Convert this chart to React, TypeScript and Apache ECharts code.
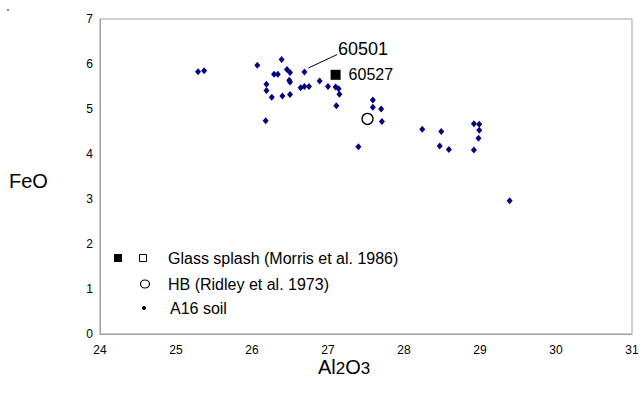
import React, { useEffect, useRef } from "react";
import * as echarts from "echarts";

const xMin = 24;
const xMax = 31;
const yMin = 0;
const yMax = 7;

// A16 soil
const soilAl2O3 = [
  25.29, 25.37, 26.07, 26.39, 26.29, 26.34, 26.46, 26.5, 26.49, 26.5, 26.19, 26.19, 26.26, 26.4,
  26.5, 26.69, 26.64, 26.69, 26.75, 26.89, 27.0, 27.1, 27.14, 27.15, 27.11, 26.18, 27.4, 27.59,
  27.59, 27.7, 27.71, 28.24, 28.49, 28.47, 28.59, 28.92, 28.99, 28.99, 28.98, 28.92, 29.39,
];
const soilFeO = [
  5.83, 5.85, 5.97, 6.1, 5.77, 5.77, 5.88, 5.81, 5.64, 5.6, 5.55, 5.41, 5.26, 5.29, 5.32, 5.82,
  5.47, 5.5, 5.5, 5.62, 5.5, 5.49, 5.45, 5.33, 5.07, 4.74, 4.16, 5.2, 5.04, 5.0, 4.72, 4.55, 4.5,
  4.18, 4.1, 4.67, 4.66, 4.53, 4.35, 4.09, 2.96,
];

// Glass splash (Morris et al. 1986)
const glassAl2O3 = [27.1];
const glassFeO = [5.76];
const glassLabels = ["60527"];

// HB (Ridley et al. 1973)
const hbAl2O3 = [27.52];
const hbFeO = [4.78];

// pointer for 60501 label
const pointerStart = [26.74, 5.91];
const pointerEnd = [27.12, 6.21];

const FONT = "Liberation Sans, Arial, sans-serif";

export default function App() {
  const ref = useRef<HTMLDivElement>(null);

  useEffect(() => {
    if (!ref.current) return;
    const chart = echarts.init(ref.current, null, { renderer: "svg" });
    const axisColor = "#a0a0a0";
    chart.setOption({
      animation: false,
      backgroundColor: "#ffffff",
      textStyle: { fontFamily: FONT },
      grid: {
        left: 100,
        right: 10,
        top: 19,
        bottom: 60,
        show: true,
        borderColor: axisColor,
        borderWidth: 1,
        containLabel: false,
      },
      xAxis: {
        type: "value",
        min: xMin,
        max: xMax,
        interval: 1,
        axisLine: { show: true, lineStyle: { color: axisColor, width: 1 } },
        axisTick: { show: false },
        splitLine: { show: false },
        axisLabel: { color: "#000", fontSize: 12, margin: 10, fontFamily: FONT },
      },
      yAxis: {
        type: "value",
        min: yMin,
        max: yMax,
        interval: 1,
        axisLine: { show: true, lineStyle: { color: axisColor, width: 1 } },
        axisTick: { show: false },
        splitLine: { show: false },
        axisLabel: { color: "#000", fontSize: 12, margin: 7, fontFamily: FONT },
      },
      series: [
        {
          name: "A16 soil",
          type: "scatter",
          symbol: "diamond",
          symbolSize: [6, 7],
          itemStyle: { color: "#000080", opacity: 1 },
          data: soilAl2O3.map((x, i) => [x, soilFeO[i]]),
          markLine: {
            silent: true,
            symbol: "none",
            label: { show: false },
            lineStyle: { color: "#000", width: 1, type: "solid" },
            data: [[{ coord: pointerStart }, { coord: pointerEnd }]],
          },
        },
        {
          name: "Glass splash (Morris et al. 1986)",
          type: "scatter",
          symbol: "rect",
          symbolSize: 10,
          itemStyle: { color: "#000", opacity: 1 },
          label: {
            show: true,
            position: "right",
            distance: 8,
            color: "#000000",
            opacity: 1,
            fontSize: 16,
            textBorderWidth: 0,
            fontFamily: FONT,
            formatter: (p: any) => glassLabels[p.dataIndex],
          },
          data: glassAl2O3.map((x, i) => [x, glassFeO[i]]),
        },
        {
          name: "HB (Ridley et al. 1973)",
          type: "scatter",
          symbol: "circle",
          symbolSize: 11,
          itemStyle: { color: "#fff", borderColor: "#000", borderWidth: 1.3, opacity: 1 },
          data: hbAl2O3.map((x, i) => [x, hbFeO[i]]),
        },
      ],
      graphic: [
        { type: "rect", left: 7, top: 9, shape: { width: 2, height: 2 }, style: { fill: "#888" } },
        {
          type: "text",
          style: { x: 338, y: 49, text: "60501", fontSize: 18, fill: "#000", fontFamily: FONT, verticalAlign: "middle" },
        },
        {
          type: "text",
          style: { x: 9, y: 181, text: "FeO", fontSize: 20, fill: "#000", fontFamily: FONT, verticalAlign: "middle" },
        },
        {
          type: "text",
          left: 318,
          top: 357,
          style: {
            text: "{a|Al}{b|2}{a|O}{b|3}",
            fill: "#000",
            fontFamily: FONT,
            rich: {
              a: { fontSize: 20, fontFamily: FONT, fill: "#000", verticalAlign: "bottom" },
              b: { fontSize: 17, fontFamily: FONT, fill: "#000", verticalAlign: "bottom" },
            },
          },
        },
        // legend
        { type: "rect", shape: { x: 114, y: 254, width: 8, height: 8 }, style: { fill: "#000" } },
        {
          type: "rect",
          shape: { x: 139.5, y: 254.5, width: 7, height: 7 },
          style: { fill: "#fff", stroke: "#000", lineWidth: 1 },
        },
        {
          type: "text",
          style: { x: 168, y: 258, text: "Glass splash (Morris et al. 1986)", fontSize: 16, fill: "#000", fontFamily: FONT, verticalAlign: "middle" },
        },
        {
          type: "ellipse",
          shape: { cx: 145, cy: 284, rx: 4.5, ry: 4 },
          style: { fill: "#fff", stroke: "#000", lineWidth: 1.2 },
        },
        {
          type: "text",
          style: { x: 168, y: 284, text: "HB (Ridley et al. 1973)", fontSize: 16, fill: "#000", fontFamily: FONT, verticalAlign: "middle" },
        },
        { type: "circle", shape: { cx: 144, cy: 308, r: 2 }, style: { fill: "#000" } },
        {
          type: "text",
          style: { x: 170, y: 308, text: "A16 soil", fontSize: 16, fill: "#000", fontFamily: FONT, verticalAlign: "middle" },
        },
      ],
    });
    return () => chart.dispose();
  }, []);

  return (
    <div
      ref={ref}
      style={{ position: "fixed", left: 0, top: 0, width: 642, height: 394, background: "#fff" }}
    />
  );
}
